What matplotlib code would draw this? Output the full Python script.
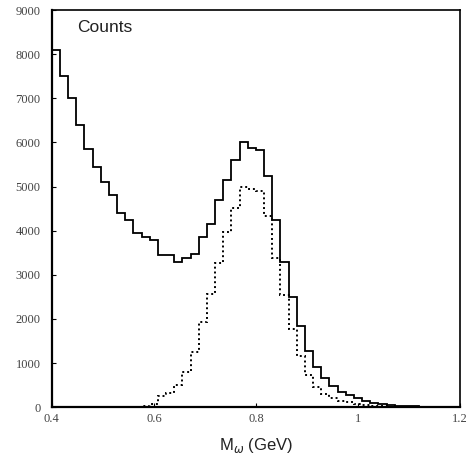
import numpy as np
import matplotlib
matplotlib.use("Agg")
import matplotlib.pyplot as plt

#  ############################# Data ########################################

# 50 bins of 0.016 GeV between 0.4 and 1.2 GeV
x_start = 0.4
x_stop = 1.2
n_bins = 50

# total spectrum (solid)
counts_all = [8100, 7500, 7000, 6400, 5850, 5450, 5100, 4800, 4400, 4250,
              3950, 3850, 3800, 3450, 3450, 3300, 3380, 3470, 3850, 4150,
              4700, 5150, 5600, 6000, 5870, 5830, 5240, 4240, 3280, 2490,
              1850, 1280, 907, 658, 476, 340, 272, 215, 136, 100,
              65, 45, 30, 25, 18, 12, 10, 8, 5, 5]

# omega signal (dotted)
counts_omega = [0, 0, 0, 0, 0, 0, 0, 0, 0, 0,
                0, 20, 80, 250, 330, 500, 800, 1250, 1930, 2560,
                3265, 3968, 4512, 4990, 4943, 4900, 4330, 3380, 2540, 1770,
                1150, 726, 454, 295, 204, 150, 110, 80, 55, 35,
                20, 12, 8, 5, 3, 2, 2, 1, 1, 0]

x_ticks = [0.4, 0.6, 0.8, 1.0, 1.2]
x_ticklabels = ['0.4', '0.6', '0.8', '1', '1.2']
y_ticks = [0, 1000, 2000, 3000, 4000, 5000, 6000, 7000, 8000, 9000]

#  ############################# Plot parameters ##############################

plt.rc('font', family='Liberation Sans')

fig = plt.figure(figsize=(4.67, 4.58), dpi=100)
ax = fig.add_axes([0.111, 0.111, 0.874, 0.867])

#  ################################ Plotting ##################################

edges = np.linspace(x_start, x_stop, n_bins + 1)

ax.stairs(counts_all, edges, color='black', linewidth=1.3)
ax.stairs(counts_omega, edges, color='black', linewidth=1.4,
          linestyle=(0, (1, 1.5)))

ax.set_xlim(x_start, x_stop)
ax.set_ylim(0, 9000)

ax.set_xticks(x_ticks)
ax.set_xticklabels(x_ticklabels)
ax.set_yticks(y_ticks)

ax.tick_params(axis='both', direction='in', length=3, width=0.8,
               labelsize=9, labelcolor='#444444')
ax.tick_params(axis='y', pad=8)
ax.tick_params(axis='x', pad=4)
for lab in ax.get_xticklabels() + ax.get_yticklabels():
    lab.set_family('Liberation Serif')

for side in ['left', 'bottom']:
    ax.spines[side].set_linewidth(1.6)
for side in ['top', 'right']:
    ax.spines[side].set_linewidth(1.2)

ax.text(0.061, 0.957, 'Counts', transform=ax.transAxes,
        ha='left', va='center', fontsize=12.5, color='#222222')

ax.set_xlabel(r'M$_\omega$ (GeV)', fontsize=12, color='#222222', labelpad=8)

plt.savefig("out.png", dpi=100)
